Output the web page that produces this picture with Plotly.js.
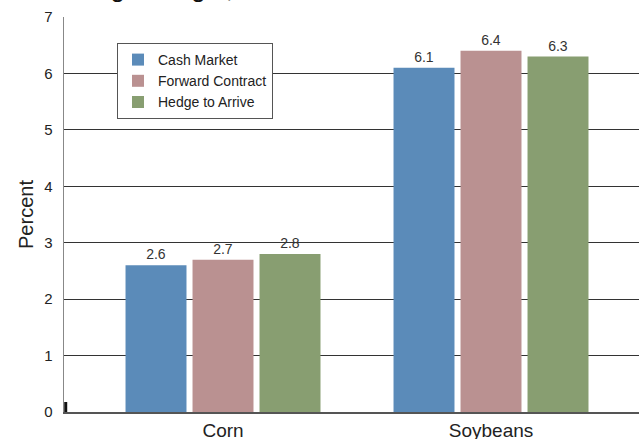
<!DOCTYPE html>
<html>
<head>
<meta charset="utf-8">
<script src="https://cdn.plot.ly/plotly-3.0.1.min.js"></script>
<style>html,body{margin:0;padding:0;background:#fff;}#chart{width:639px;height:439px;}</style>
</head>
<body>
<div id="chart"></div>
<script>
const categories = ["Corn", "Soybeans"];
const cashMarket = [2.6, 6.1];
const forwardContract = [2.7, 6.4];
const hedgeToArrive = [2.8, 6.3];
const seriesNames = ["Cash Market", "Forward Contract", "Hedge to Arrive"];
const yTicks = [0, 1, 2, 3, 4, 5, 6, 7];
const chartTitle = "Average Margin,";

const colors = ["#5B8BB9", "#BA9191", "#889E71"];
const seriesValues = [cashMarket, forwardContract, hedgeToArrive];
const xIdx = categories.map((c, i) => i);

const traces = seriesValues.map((vals, k) => ({
  type: "bar",
  name: seriesNames[k],
  x: xIdx,
  y: vals,
  marker: {color: colors[k], line: {width: 0}},
  text: vals.map(v => v.toFixed(1)),
  textposition: "outside",
  textfont: {family: "Liberation Sans, Arial, sans-serif", size: 14, color: "#333"},
  cliponaxis: false,
  hoverinfo: "skip"
}));

const layout = {
  width: 639, height: 439,
  margin: {l: 64, r: 0, t: 17, b: 27},
  paper_bgcolor: "#fff", plot_bgcolor: "#fff",
  font: {family: "Liberation Sans, Arial, sans-serif", color: "#222"},
  annotations: [{
    text: chartTitle,
    font: {size: 26, color: "#111"},
    xref: "paper", x: (42-64)/575, xanchor: "left",
    yref: "paper", y: (412-4)/395, yanchor: "bottom",
    showarrow: false, borderpad: 0
  }],
  barmode: "group",
  bargap: 0.25,
  bargroupgap: 0.09,
  showlegend: true,
  legend: {
    x: (117-64)/575, xanchor: "left",
    y: (412-43)/395, yanchor: "top",
    bgcolor: "#fff", bordercolor: "#555", borderwidth: 1,
    font: {size: 14, color: "#222"},
    traceorder: "normal"
  },
  xaxis: {
    type: "linear",
    range: [-0.5933, 1.5522],
    tickvals: xIdx,
    ticktext: categories,
    tickfont: {size: 19, color: "#222"},
    ticks: "",
    showgrid: false,
    zeroline: false,
    showline: true, linecolor: "#555", linewidth: 2
  },
  yaxis: {
    range: [0, 7],
    tickvals: yTicks,
    tickfont: {size: 15, color: "#222"},
    ticks: "inside", ticklen: 4, tickcolor: "#333",
    ticklabelstandoff: 7,
    showgrid: true, gridcolor: "#333", gridwidth: 1,
    zeroline: false,
    showline: true, linecolor: "#888", linewidth: 1.5,
    title: {text: "Percent", font: {size: 20, color: "#222"}, standoff: 5}
  },
  shapes: [{
    type: "line", xref: "paper", yref: "paper",
    x0: 0.003, x1: 0.003, y0: 0, y1: 10/395,
    line: {color: "#111", width: 3}
  }]
};

Plotly.newPlot("chart", traces, layout, {displayModeBar: false, staticPlot: true});
</script>
</body>
</html>
